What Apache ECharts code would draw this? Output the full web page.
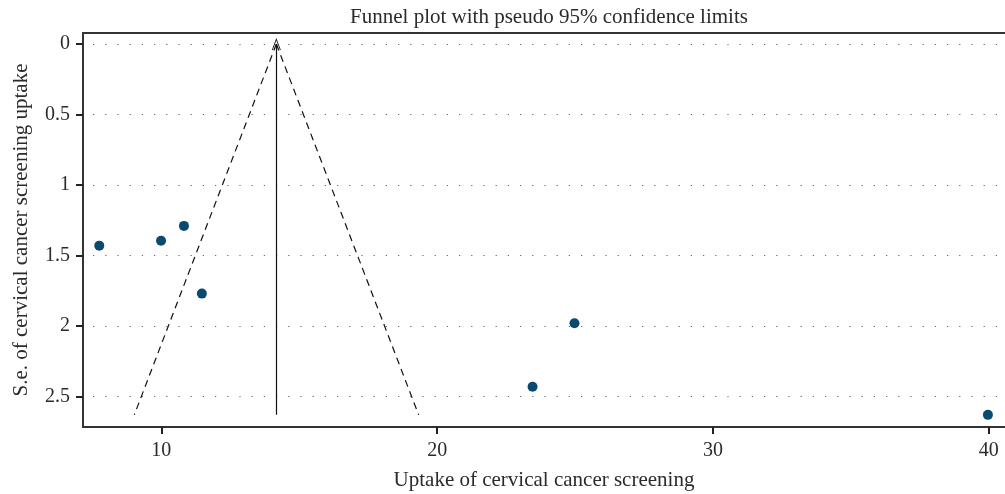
<!DOCTYPE html>
<html><head><meta charset="utf-8">
<script src="https://cdn.jsdelivr.net/npm/echarts@6/dist/echarts.min.js"></script>
<style>html,body{margin:0;padding:0;background:#fff}#c{width:1005px;height:494px}</style>
</head><body><div id="c"></div>
<script>
// Study estimates: [uptake, standard error]
var studies = [[7.75,1.43],[9.99,1.395],[10.82,1.29],[11.47,1.77],[24.98,1.98],[23.46,2.43],[39.97,2.63]];
// pooled estimate and funnel limits
var pooled = 14.17;
var maxSE = 2.63;
var lowerLimit = [[14.17,0],[9.02,2.63]];
var upperLimit = [[14.17,0],[19.33,2.63]];
var xTicks = [10,20,30,40];
var yTicks = [0,0.5,1,1.5,2,2.5];

var font = '"Liberation Serif","DejaVu Serif",serif';
var txt = '#2b2b2b';
var chart = echarts.init(document.getElementById('c'));
chart.setOption({
  animation:false,
  title:{text:'Funnel plot with pseudo 95% confidence limits', left:544, top:2, textAlign:'center',
    textStyle:{fontFamily:font, fontSize:21, fontWeight:'normal', color:txt}},
  grid:{left:83, top:33, right:0, bottom:67, containLabel:false, outerBoundsMode:'none'},
  xAxis:[{type:'value', min:7.16, max:40.59, position:'bottom',
    name:'Uptake of cervical cancer screening', nameLocation:'middle', nameGap:43,
    nameTextStyle:{fontFamily:font, fontSize:21, color:txt},
    axisLine:{show:true, onZero:false, lineStyle:{color:'#333', width:2}},
    axisTick:{show:true, length:7, customValues:xTicks, lineStyle:{color:'#222', width:2}},
    axisLabel:{customValues:xTicks, fontFamily:font, fontSize:20, color:txt, margin:14},
    splitLine:{show:false}},
   {type:'value', min:7.16, max:40.59, position:'top',
    axisLine:{show:true, onZero:false, lineStyle:{color:'#333', width:2}},
    axisTick:{show:false}, axisLabel:{show:false}, splitLine:{show:false}}],
  yAxis:{type:'value', inverse:true, min:-0.078, max:2.716,
    name:'S.e. of cervical cancer screening uptake', nameLocation:'middle', nameGap:51,
    nameTextStyle:{fontFamily:font, fontSize:21, color:txt},
    axisLine:{show:true, onZero:false, lineStyle:{color:'#333', width:2}},
    axisTick:{show:true, inside:false, length:7, customValues:yTicks, lineStyle:{color:'#222', width:2}},
    axisLabel:{customValues:yTicks, fontFamily:font, fontSize:20, color:txt, margin:13},
    splitLine:{show:true, lineStyle:{color:'#666', width:1.2, type:[1.2,11], dashOffset:-10}}},
  series:[
    {type:'line', data:lowerLimit, symbol:'none', lineStyle:{color:'#111', width:1.2, type:[7,5]}},
    {type:'line', data:upperLimit, symbol:'none', lineStyle:{color:'#111', width:1.2, type:[7,5]}},
    {type:'scatter', data:studies, symbolSize:10, itemStyle:{color:'#0b4a70', opacity:1},
      markLine:{silent:true, animation:false, label:{show:false},
        symbol:['none','path://M0,10 L5,0 L10,10 L9,10 L5,2 L1,10 Z'], symbolSize:[9,12],
        lineStyle:{color:'#111', width:1.2, type:'solid'},
        data:[[{coord:[pooled,maxSE]},{coord:[pooled,0]}]]}}
  ]
});
</script></body></html>
